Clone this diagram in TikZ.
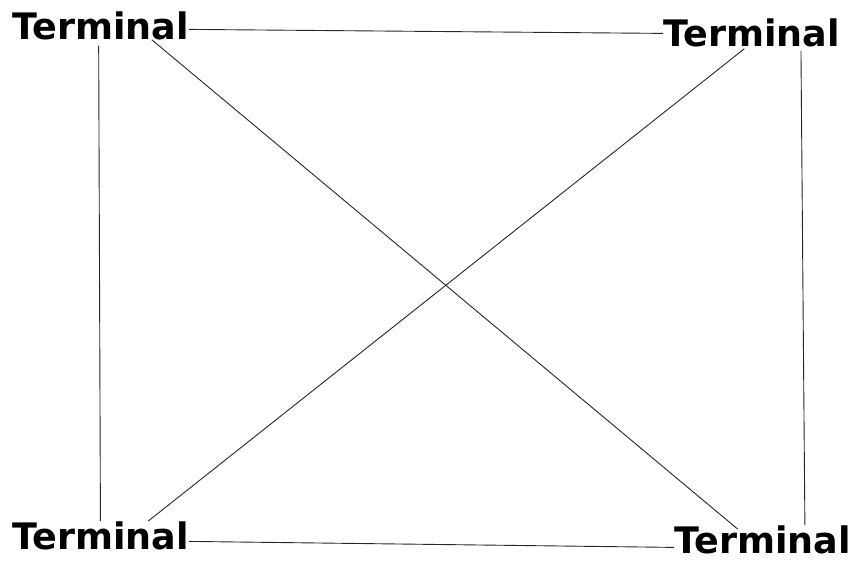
\documentclass[tikz,border=0pt]{standalone}
\usepackage{fontspec}
\newfontfamily\termfont{DejaVu Sans}
\usetikzlibrary{calc}

\begin{document}
\begin{tikzpicture}[
    x=1pt, y=-1pt,
    termbox/.style={inner sep=0pt, anchor=base west, font=\termfont\bfseries\fontsize{36.5}{42}\selectfont},
    wire/.style={line width=0.9pt, black!85}
]

    \useasboundingbox (0,0) rectangle (858,563);

    % --------------------------------------------------------
    % 1. TERMINALS
    % --------------------------------------------------------

    \node (tl) [termbox] at (12, 39) {Terminal};
    \node (tr) [termbox] at (663, 46) {Terminal};
    \node (bl) [termbox] at (12, 549) {Terminal};
    \node (br) [termbox] at (674, 553) {Terminal};

    % --------------------------------------------------------
    % 2. LINKS
    % --------------------------------------------------------

    % outer ring
    \draw [wire] ([yshift=-4pt]tl.east) -- ([yshift=-1pt]tr.west);
    \draw [wire] ([yshift=-6pt]bl.east) -- ([yshift=-8pt]br.west);
    \draw [wire] ([yshift=-6pt]$(tl.south west)!0.49!(tl.south east)$) -- ($(bl.north west)!0.5!(bl.north east)$);
    \draw [wire] ([yshift=-4pt]$(tr.south west)!0.78!(tr.south east)$) -- ($(br.north west)!0.74!(br.north east)$);

    % crossing links
    \draw [wire] ($(tl.south west)!0.79!(tl.south east)$) -- ([yshift=-4pt]$(br.north west)!0.36!(br.north east)$);
    \draw [wire] ([yshift=-2pt]$(tr.south west)!0.46!(tr.south east)$) -- ($(bl.north west)!0.77!(bl.north east)$);

\end{tikzpicture}
\end{document}
